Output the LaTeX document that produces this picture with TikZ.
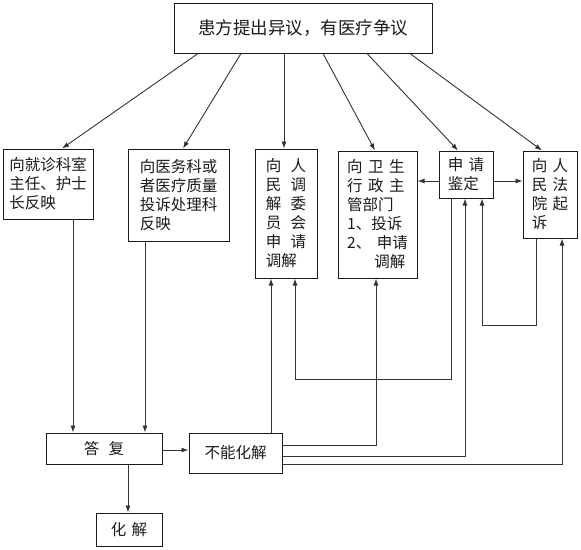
\documentclass[tikz,border=0pt]{standalone}
\usepackage{fontspec}
\setmainfont{Noto Sans CJK SC}
\usetikzlibrary{arrows.meta}
\definecolor{ink}{HTML}{1A1A1A}
\definecolor{wire}{HTML}{333333}
\newcommand\wgap{\hspace{0.6em}}
\newcommand\ngap{\hspace{0.35em}}

\begin{document}
\begin{tikzpicture}[x=1pt,y=-1pt,>={Latex[length=7pt,width=5pt]},
  box/.style={draw=ink,line width=1pt,rectangle,inner sep=0pt,
    align=left,text=ink,font=\fontsize{15.5}{19}\selectfont},
  wire/.style={draw=wire,line width=0.9pt},
  arr/.style={wire,->}]
  \useasboundingbox (0,0) rectangle (581,549);

  % top and the six channels
  \node[box,minimum width=258pt,minimum height=50pt,
    font=\fontsize{17.5}{20}\selectfont] (top) at (303,28)
    {患方提出异议，有医疗争议};
  \node[box,minimum width=90pt,minimum height=70pt] (ks) at (48,184)
    {向就诊科室\\主任、护士\\长反映};
  \node[box,minimum width=101pt,minimum height=92pt] (yw) at (178.5,195)
    {向医务科或\\者医疗质量\\投诉处理科\\反映};
  \node[box,minimum width=62pt,minimum height=129pt] (tj) at (286,213.5)
    {向\wgap 人\\民\wgap 调\\解\wgap 委\\员\wgap 会\\申\wgap 请\\调解};
  \node[box,minimum width=79pt,minimum height=127pt] (wz) at (377.5,214.5)
    {向\ngap 卫\ngap 生\\行\ngap 政\ngap 主\\管部门\\1、投诉\\2、\ngap 申请\\\hspace{1.75em}调解};
  \node[box,minimum width=54pt,minimum height=47pt] (jd) at (466,174.5)
    {申\ngap 请\\鉴定};
  \node[box,minimum width=54pt,minimum height=87pt] (fy) at (550,194.5)
    {向\ngap 人\\民\ngap 法\\院\ngap 起\\诉};

  % bottom row
  \node[box,minimum width=116pt,minimum height=31pt] (df) at (104,448.5)
    {答\wgap 复};
  \node[box,minimum width=93pt,minimum height=40pt] (bn) at (235.5,453)
    {不能化解};
  \node[box,minimum width=66pt,minimum height=33pt] (hj) at (129,529.5)
    {化\ngap 解};

  \draw[arr] (top.south -| 198,0) -- (ks.north -| 62,0);
  \draw[arr] (top.south -| 241,0) -- (yw.north -| 183,0);
  \draw[arr] (top.south -| 284,0) -- (tj.north -| 284,0);
  \draw[arr] (top.south -| 323,0) -- (wz.north -| 375,0);
  \draw[arr] (top.south -| 367,0) -- (jd.north -| 458,0);
  \draw[arr] (top.south -| 410,0) -- (fy.north -| 542,0);

  \draw[arr] (jd.west |- 0,181) -- (wz.east |- 0,181);
  \draw[arr] (jd.east |- 0,181) -- (fy.west |- 0,181);

  \draw[arr] (ks.south -| 73,0) -- (df.north -| 73,0);
  \draw[arr] (yw.south -| 145,0) -- (df.north -| 145,0);
  \draw[arr] (df.east |- 0,450) -- (bn.west |- 0,450);
  \draw[arr] (df.south -| 128,0) -- (hj.north -| 128,0);

  % feedback paths
  \draw[arr] (bn.north -| 271,0) -- (tj.south -| 271,0);
  \draw[arr] (jd.south -| 451,0) -- (451,379) -| (tj.south -| 295,0);
  \draw[arr] (fy.south -| 536,0) -- (536,325) -| (jd.south -| 482,0);
  \draw[arr] (bn.east |- 0,445) -| (wz.south -| 376,0);
  \draw[arr] (bn.east |- 0,456) -| (jd.south -| 465,0);
  \draw[arr] (bn.east |- 0,464) -| (fy.south -| 562,0);
\end{tikzpicture}
\end{document}
